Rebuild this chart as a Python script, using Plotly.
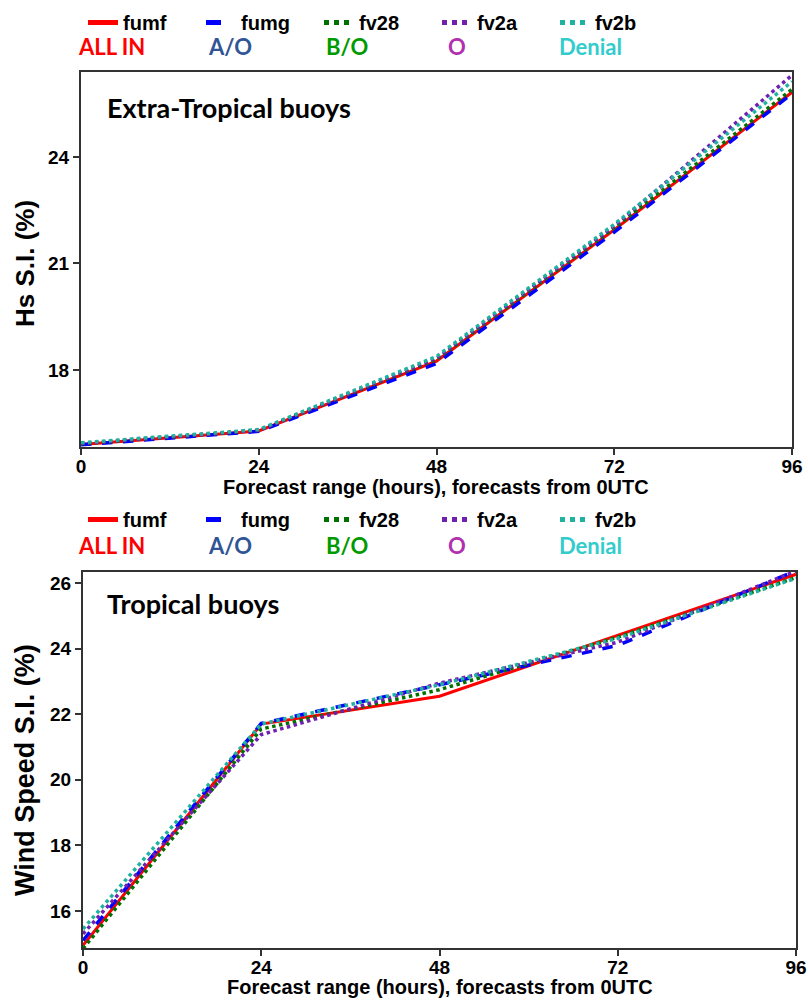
import plotly.graph_objects as go

hours = [0, 24, 48, 72, 96]
series_names = ["fumf", "fumg", "fv28", "fv2a", "fv2b"]
series_labels = ["ALL IN", "A/O", "B/O", "O", "Denial"]

# Extra-Tropical buoys, Hs S.I. (%)
et_fumf = [15.90, 16.28, 18.25, 21.95, 25.82]
et_fumg = [15.89, 16.27, 18.18, 21.88, 25.78]
et_fv28 = [15.92, 16.30, 18.30, 22.00, 25.90]
et_fv2a = [15.93, 16.30, 18.33, 22.05, 26.30]
et_fv2b = [15.95, 16.32, 18.38, 22.10, 26.12]

# Tropical buoys, Wind Speed S.I. (%)
tr_fumf = [14.95, 21.70, 22.55, 24.40, 26.27]
tr_fumg = [15.10, 21.72, 22.90, 24.10, 26.38]
tr_fv28 = [14.85, 21.55, 22.75, 24.35, 26.17]
tr_fv2a = [15.30, 21.38, 22.95, 24.20, 26.37]
tr_fv2b = [15.45, 21.70, 22.90, 24.32, 26.15]

line_colors = ["#FF0000", "#0000FF", "#007000", "#7020B0", "#20B2A0"]
line_dashes = ["solid", "dash", "dot", "dot", "dot"]
line_widths = [3, 3.5, 3.5, 3.5, 3.5]
label_colors = ["#FF0000", "#2F5597", "#009A00", "#B030B0", "#33CCCC"]

W, H = 808, 1001

fig = go.Figure()

top_series = [et_fumf, et_fumg, et_fv28, et_fv2a, et_fv2b]
bot_series = [tr_fumf, tr_fumg, tr_fv28, tr_fv2a, tr_fv2b]

for i, name in enumerate(series_names):
    fig.add_trace(go.Scatter(
        x=hours, y=top_series[i], mode="lines", name=name,
        line=dict(color=line_colors[i], dash=line_dashes[i], width=line_widths[i]),
        xaxis="x", yaxis="y", legend="legend"))
for i, name in enumerate(series_names):
    fig.add_trace(go.Scatter(
        x=hours, y=bot_series[i], mode="lines", name=name,
        line=dict(color=line_colors[i], dash=line_dashes[i], width=line_widths[i]),
        xaxis="x2", yaxis="y2", legend="legend2"))

tickfont = dict(family="Liberation Sans, Arial", size=19, color="black", weight="bold")
axis_common = dict(showline=True, linecolor="#333333", linewidth=2, mirror=True,
                   ticks="outside", ticklen=6, tickwidth=1.5, tickcolor="#333333",
                   showgrid=False, zeroline=False, tickfont=tickfont, automargin=False)
x_extra = dict(ticklabelstandoff=-5)

fig.update_layout(
    width=W, height=H,
    margin=dict(l=0, r=0, t=0, b=0),
    paper_bgcolor="white", plot_bgcolor="white",
    xaxis=dict(domain=[81 / W, 792 / W], range=[0, 96], tickvals=hours,
               anchor="y", **axis_common, **x_extra),
    yaxis=dict(domain=[1 - 447 / H, 1 - 72 / H], range=[15.83, 26.39],
               tickvals=[18, 21, 24], anchor="x", **axis_common),
    xaxis2=dict(domain=[83 / W, 796 / W], range=[0, 96], tickvals=hours,
                anchor="y2", **axis_common, **x_extra),
    yaxis2=dict(domain=[1 - 948 / H, 1 - 572 / H], range=[14.87, 26.34],
                tickvals=[16, 18, 20, 22, 24, 26], anchor="x2", **axis_common),
    showlegend=True,
)

legend_font = dict(family="Liberation Sans, Arial", size=20, color="black", weight="bold")
fig.update_layout(
    legend=dict(orientation="h", x=83 / W, y=1 - 3 / H, xanchor="left", yanchor="top",
                entrywidth=73, entrywidthmode="pixels", font=legend_font,
                bgcolor="rgba(0,0,0,0)", itemsizing="constant"),
    legend2=dict(orientation="h", x=83 / W, y=1 - 500 / H, xanchor="left", yanchor="top",
                 entrywidth=73, entrywidthmode="pixels", font=legend_font,
                 bgcolor="rgba(0,0,0,0)", itemsizing="constant"),
)

annotations = []
label_x = [111, 230, 347, 457, 590]
for row_y in [47, 545]:
    for i, lab in enumerate(series_labels):
        annotations.append(dict(
            text=lab, x=label_x[i] / W, y=1 - row_y / H, xref="paper", yref="paper",
            xanchor="center", yanchor="middle", showarrow=False,
            font=dict(family="Lato, Open Sans", size=22, color=label_colors[i], weight="bold")))

title_font = dict(family="Lato, Open Sans", size=27, color="black", weight="bold")
annotations.append(dict(text="Extra-Tropical buoys", x=105 / W, y=1 - 107 / H,
                        xref="paper", yref="paper", xanchor="left", yanchor="middle",
                        showarrow=False, font=title_font))
annotations.append(dict(text="Tropical buoys", x=105 / W, y=1 - 603 / H,
                        xref="paper", yref="paper", xanchor="left", yanchor="middle",
                        showarrow=False, font=title_font))

axt_font = dict(family="Liberation Sans, Arial", size=20, color="black", weight="bold")
annotations.append(dict(text="Forecast range (hours), forecasts from 0UTC", x=436 / W, y=1 - 487 / H,
                        xref="paper", yref="paper", xanchor="center", yanchor="middle",
                        showarrow=False, font=axt_font))
annotations.append(dict(text="Forecast range (hours), forecasts from 0UTC", x=440 / W, y=1 - 987 / H,
                        xref="paper", yref="paper", xanchor="center", yanchor="middle",
                        showarrow=False, font=axt_font))
annotations.append(dict(text="Hs S.I. (%)", x=25 / W, y=1 - 264 / H, textangle=-90,
                        xref="paper", yref="paper", xanchor="center", yanchor="middle",
                        showarrow=False, font=dict(axt_font, size=26)))
annotations.append(dict(text="Wind Speed S.I. (%)", x=25 / W, y=1 - 770 / H, textangle=-90,
                        xref="paper", yref="paper", xanchor="center", yanchor="middle",
                        showarrow=False, font=dict(axt_font, size=27)))
fig.update_layout(annotations=annotations)

fig.write_html("out.html")
